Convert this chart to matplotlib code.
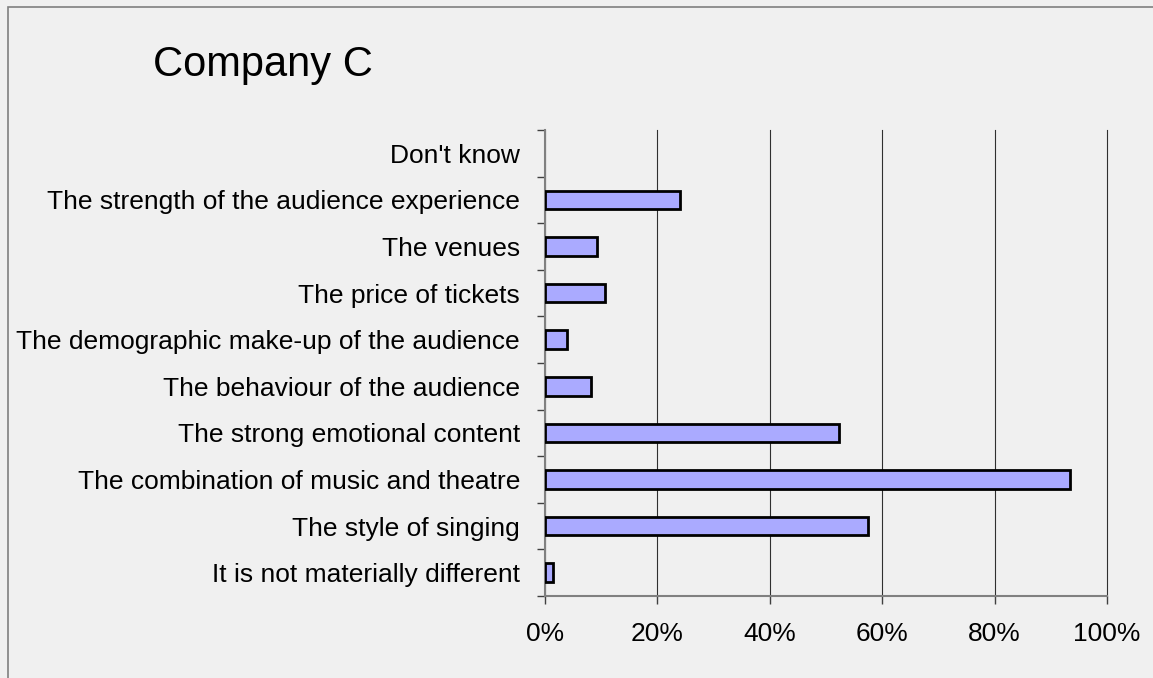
import matplotlib
matplotlib.use('Agg')
import matplotlib.pyplot as plt
from matplotlib.patches import Rectangle
from matplotlib.ticker import FixedLocator, PercentFormatter

categories = [
    "Don't know",
    "The strength of the audience experience",
    "The venues",
    "The price of tickets",
    "The demographic make-up of the audience",
    "The behaviour of the audience",
    "The strong emotional content",
    "The combination of music and theatre",
    "The style of singing",
    "It is not materially different",
]
values = [0.0, 24.0, 9.3, 10.7, 4.0, 8.1, 52.3, 93.4, 57.5, 1.4]
x_ticks = [0, 20, 40, 60, 80, 100]

plt.rcParams['font.family'] = ['Liberation Sans', 'DejaVu Sans']

W, H = 1153, 678
fig = plt.figure(figsize=(W / 100, H / 100), dpi=100)
fig.patch.set_facecolor('#F0F0F0')

# outer frame
fig.patches.append(Rectangle((8 / W, -0.1), 1.2, 1 - 7 / H + 0.1,
                             transform=fig.transFigure, fill=False,
                             edgecolor='#808080', linewidth=1.2))

ax = fig.add_axes([545 / W, 1 - 596 / H, (1107 - 545) / W, (596 - 130) / H])
ax.set_facecolor('#F0F0F0')

ypos = list(range(len(categories)))
edge_w = [2.0 if v > 0 else 0 for v in values]
ax.barh(ypos, values, height=0.4, color='#AAAAFF', edgecolor='black',
        linewidth=edge_w, zorder=3)

ax.set_xlim(0, 100)
ax.set_ylim(len(categories) - 0.5, -0.5)

ax.set_xticks(x_ticks)
ax.xaxis.set_major_formatter(PercentFormatter(decimals=0))
ax.grid(axis='x', color='#303030', linewidth=0.8, zorder=1)
for gl in ax.xaxis.get_gridlines():
    gl.set_clip_on(False)
ax.set_axisbelow(True)

ax.set_yticks(ypos)
ax.set_yticklabels(categories)
ax.yaxis.set_minor_locator(FixedLocator([i - 0.5 for i in range(len(categories) + 1)]))

ax.tick_params(axis='y', which='major', length=0, pad=18, labelsize=19)
ax.tick_params(axis='y', which='minor', length=6, width=1, color='#404040')
ax.tick_params(axis='x', which='major', length=6, width=1, color='#404040',
               pad=13, labelsize=19)

for s in ['top', 'right']:
    ax.spines[s].set_visible(False)
ax.spines['left'].set_color('#808080')
ax.spines['left'].set_linewidth(1.5)
ax.spines['bottom'].set_color('#808080')
ax.spines['bottom'].set_linewidth(1.5)

fig.text(153 / W, 1 - 76 / H, "Company C", fontsize=30, ha='left', va='baseline')

fig.savefig("out.png", dpi=100, facecolor=fig.get_facecolor())
